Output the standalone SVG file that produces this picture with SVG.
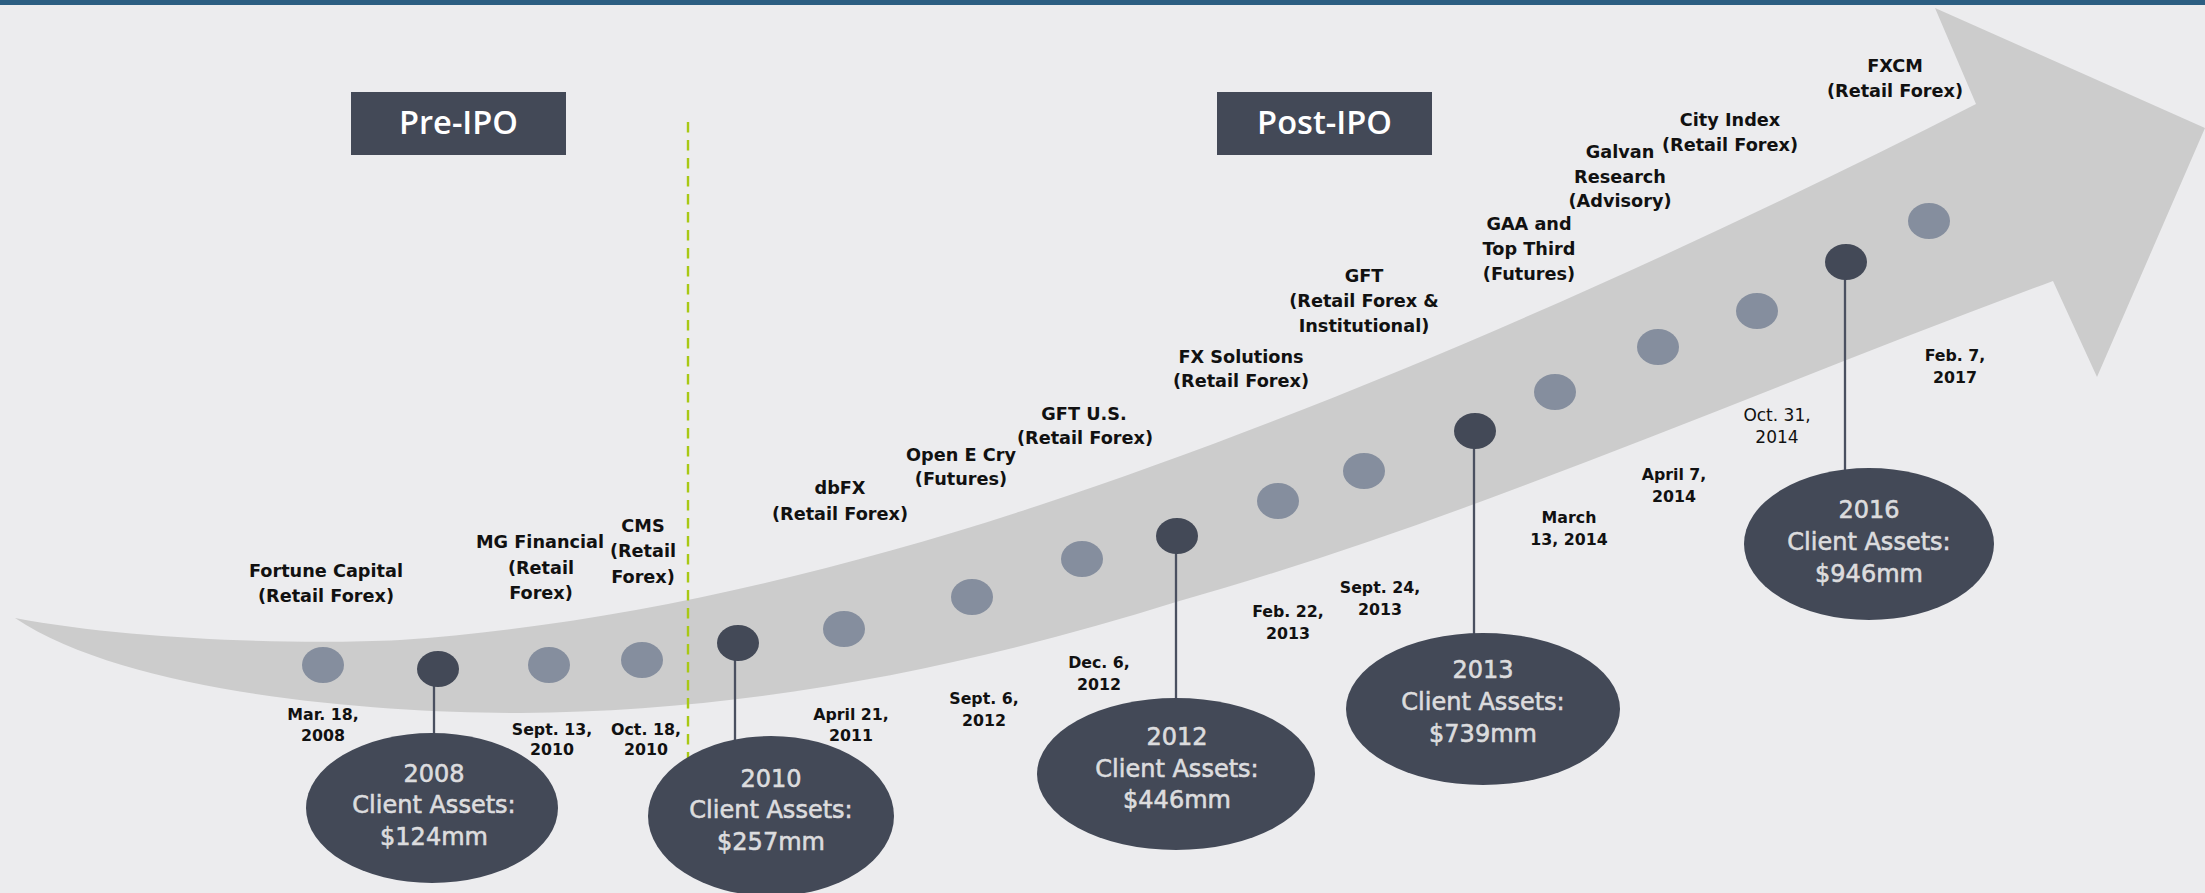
<svg xmlns="http://www.w3.org/2000/svg" width="2205" height="893" viewBox="0 0 2205 893">
<style>
.lbl{font-family:"DejaVu Sans","Liberation Sans",sans-serif;font-weight:bold;font-size:17.7px;fill:#111;text-anchor:middle}
.dt{font-family:"DejaVu Sans","Liberation Sans",sans-serif;font-weight:bold;font-size:15.8px;fill:#111;text-anchor:middle}
.dtr{font-family:"DejaVu Sans","Liberation Sans",sans-serif;font-weight:normal;font-size:17px;fill:#111;text-anchor:middle}
.ca{font-family:"DejaVu Sans","Liberation Sans",sans-serif;font-size:24px;fill:#DCDCDE;stroke:#DCDCDE;stroke-width:0.6;text-anchor:middle}
.hd{font-family:"Open Sans","DejaVu Sans",sans-serif;font-weight:600;font-size:32.6px;fill:#FFFFFF;text-anchor:middle}
.box{fill:#434957}
.big{fill:#434957}
.dl{fill:#858E9E}
.dd{fill:#434957}
.stem{stroke:#4A5060;stroke-width:2.3;fill:none}
</style>
<rect x="0" y="0" width="2205" height="893" fill="#ECECEE"/>
<rect x="0" y="0" width="2205" height="5" fill="#2C5E82"/>
<path id="arrow" fill="#CCCCCC" d="M 15 618 C 130 695 380 713 520 713 C 740 712 960 670 1176 602 C 1468 520 1760 389 2053 281 L 2097 377 L 2205 128 L 1935 8 L 1976 104 C 1676 257 1340 406 1040 505 C 827 575 613 625 400 640 C 300 645 130 640 15 618 Z"/>
<line id="ipo-divider" x1="688" y1="122" x2="688" y2="758" stroke="#A8C814" stroke-width="2.4" stroke-dasharray="10.5 7.5"/>
<g id="header-pre"><rect class="box" x="351" y="92" width="215" height="63"/><text class="hd" x="458.5" y="134">Pre-IPO</text></g>
<g id="header-post"><rect class="box" x="1217" y="92" width="215" height="63"/><text class="hd" x="1324.5" y="134">Post-IPO</text></g>
<g id="connectors">
<line class="stem" x1="434" y1="669" x2="434" y2="800"/>
<line class="stem" x1="735" y1="643" x2="735" y2="800"/>
<line class="stem" x1="1176" y1="536" x2="1176" y2="760"/>
<line class="stem" x1="1474" y1="431" x2="1474" y2="700"/>
<line class="stem" x1="1845" y1="262" x2="1845" y2="530"/>
</g>
<g id="ev-fortune"><ellipse class="dl" cx="323" cy="665" rx="21" ry="18"/><text class="lbl" x="326" y="577">Fortune Capital</text><text class="lbl" x="326" y="602">(Retail Forex)</text><text class="dt" x="323" y="720">Mar. 18,</text><text class="dt" x="323" y="741">2008</text></g>
<g id="ev-2008"><ellipse class="dd" cx="438" cy="669" rx="21" ry="18"/></g>
<g id="ev-mg"><ellipse class="dl" cx="549" cy="665" rx="21" ry="18"/><text class="lbl" x="540" y="548">MG Financial</text><text class="lbl" x="541" y="574">(Retail</text><text class="lbl" x="541" y="599">Forex)</text><text class="dt" x="552" y="735">Sept. 13,</text><text class="dt" x="552" y="755">2010</text></g>
<g id="ev-cms"><ellipse class="dl" cx="642" cy="660" rx="21" ry="18"/><text class="lbl" x="643" y="532">CMS</text><text class="lbl" x="643" y="557">(Retail</text><text class="lbl" x="643" y="583">Forex)</text><text class="dt" x="646" y="735">Oct. 18,</text><text class="dt" x="646" y="755">2010</text></g>
<g id="ev-2010"><ellipse class="dd" cx="738" cy="643" rx="21" ry="18"/></g>
<g id="ev-dbfx"><ellipse class="dl" cx="844" cy="629" rx="21" ry="18"/><text class="lbl" x="840" y="494">dbFX</text><text class="lbl" x="840" y="520">(Retail Forex)</text><text class="dt" x="851" y="720">April 21,</text><text class="dt" x="851" y="741">2011</text></g>
<g id="ev-openecry"><ellipse class="dl" cx="972" cy="597" rx="21" ry="18"/><text class="lbl" x="961" y="461">Open E Cry</text><text class="lbl" x="961" y="485">(Futures)</text><text class="dt" x="984" y="704">Sept. 6,</text><text class="dt" x="984" y="726">2012</text></g>
<g id="ev-gftus"><ellipse class="dl" cx="1082" cy="559" rx="21" ry="18"/><text class="lbl" x="1084" y="420">GFT U.S.</text><text class="lbl" x="1085" y="444">(Retail Forex)</text><text class="dt" x="1099" y="668">Dec. 6,</text><text class="dt" x="1099" y="690">2012</text></g>
<g id="ev-2012"><ellipse class="dd" cx="1177" cy="536" rx="21" ry="18"/></g>
<g id="ev-fxsol"><ellipse class="dl" cx="1278" cy="501" rx="21" ry="18"/><text class="lbl" x="1241" y="363">FX Solutions</text><text class="lbl" x="1241" y="387">(Retail Forex)</text><text class="dt" x="1288" y="617">Feb. 22,</text><text class="dt" x="1288" y="639">2013</text></g>
<g id="ev-gft"><ellipse class="dl" cx="1364" cy="471" rx="21" ry="18"/><text class="lbl" x="1364" y="282">GFT</text><text class="lbl" x="1364" y="307">(Retail Forex &amp;</text><text class="lbl" x="1364" y="332">Institutional)</text><text class="dt" x="1380" y="593">Sept. 24,</text><text class="dt" x="1380" y="615">2013</text></g>
<g id="ev-2013"><ellipse class="dd" cx="1475" cy="431" rx="21" ry="18"/></g>
<g id="ev-gaa"><ellipse class="dl" cx="1555" cy="392" rx="21" ry="18"/><text class="lbl" x="1529" y="230">GAA and</text><text class="lbl" x="1529" y="255">Top Third</text><text class="lbl" x="1529" y="280">(Futures)</text><text class="dt" x="1569" y="523">March</text><text class="dt" x="1569" y="545">13, 2014</text></g>
<g id="ev-galvan"><ellipse class="dl" cx="1658" cy="347" rx="21" ry="18"/><text class="lbl" x="1620" y="158">Galvan</text><text class="lbl" x="1620" y="183">Research</text><text class="lbl" x="1620" y="207">(Advisory)</text><text class="dt" x="1674" y="480">April 7,</text><text class="dt" x="1674" y="502">2014</text></g>
<g id="ev-cityindex"><ellipse class="dl" cx="1757" cy="311" rx="21" ry="18"/><text class="lbl" x="1730" y="126">City Index</text><text class="lbl" x="1730" y="151">(Retail Forex)</text><text class="dtr" x="1777" y="421">Oct. 31,</text><text class="dtr" x="1777" y="443">2014</text></g>
<g id="ev-2016"><ellipse class="dd" cx="1846" cy="262" rx="21" ry="18"/></g>
<g id="ev-fxcm"><ellipse class="dl" cx="1929" cy="221" rx="21" ry="18"/><text class="lbl" x="1895" y="72">FXCM</text><text class="lbl" x="1895" y="97">(Retail Forex)</text><text class="dt" x="1955" y="361">Feb. 7,</text><text class="dt" x="1955" y="383">2017</text></g>
<g id="assets-2008"><ellipse class="big" cx="432" cy="808" rx="126" ry="75"/><text class="ca" x="434" y="782">2008</text><text class="ca" x="434" y="813">Client Assets:</text><text class="ca" x="434" y="845">$124mm</text></g>
<g id="assets-2010"><ellipse class="big" cx="771" cy="816" rx="123" ry="80"/><text class="ca" x="771" y="787">2010</text><text class="ca" x="771" y="818">Client Assets:</text><text class="ca" x="771" y="850">$257mm</text></g>
<g id="assets-2012"><ellipse class="big" cx="1176" cy="774" rx="139" ry="76"/><text class="ca" x="1177" y="745">2012</text><text class="ca" x="1177" y="777">Client Assets:</text><text class="ca" x="1177" y="808">$446mm</text></g>
<g id="assets-2013"><ellipse class="big" cx="1483" cy="709" rx="137" ry="76"/><text class="ca" x="1483" y="678">2013</text><text class="ca" x="1483" y="710">Client Assets:</text><text class="ca" x="1483" y="742">$739mm</text></g>
<g id="assets-2016"><ellipse class="big" cx="1869" cy="544" rx="125" ry="76"/><text class="ca" x="1869" y="518">2016</text><text class="ca" x="1869" y="550">Client Assets:</text><text class="ca" x="1869" y="582">$946mm</text></g>
</svg>
